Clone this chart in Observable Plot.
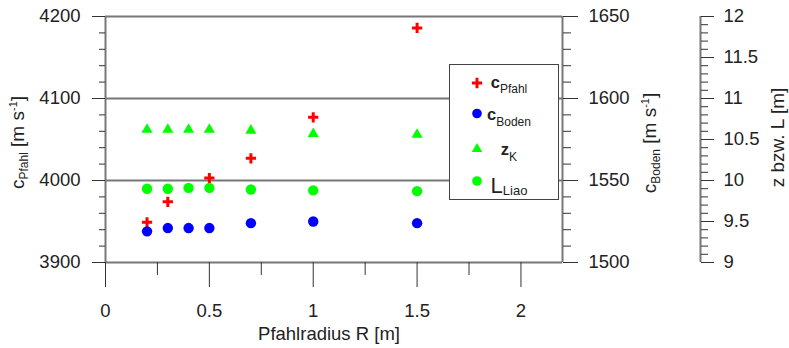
<!DOCTYPE html>
<html><head><meta charset="utf-8">
<script src="https://cdn.jsdelivr.net/npm/d3@7"></script>
<script src="https://cdn.jsdelivr.net/npm/@observablehq/plot@0.6"></script>
<style>
body{margin:0;background:#fff;}
#chart svg{font-family:"Liberation Sans",Arial,sans-serif;}
</style></head><body><div id="chart"></div>
<script>
// ---- data ----
const radius = [0.2, 0.3, 0.4, 0.5, 0.7, 1.0, 1.5];
const cPfahl = [3949, 3974, null, 4003, 4027, 4077, 4186];
const cBoden = [1519, 1521, 1521, 1521, 1524, 1525, 1524];
const zK     = [10.62, 10.62, 10.62, 10.62, 10.61, 10.57, 10.56];
const LLiao  = [9.90, 9.90, 9.91, 9.91, 9.89, 9.88, 9.87];

// ---- ticks ----
const xTicks = [0, 0.5, 1, 1.5, 2];
const xMinorTicks = [0.25, 0.75, 1.25, 1.75];
const pfahlTicks = [3900, 4000, 4100, 4200];
const bodenTicks = [1500, 1550, 1600, 1650];
const zTicks = [9, 9.5, 10, 10.5, 11, 11.5, 12];

const xDomain = [0, 2.2];
const pfahlDomain = [3900, 4200];
const bodenDomain = [1500, 1650];
const zDomain = [9, 12];

// map secondary axes into the primary (c_Pfahl) y scale
const k = (pfahlDomain[1] - pfahlDomain[0]);
const fromBoden = b => pfahlDomain[0] + (b - bodenDomain[0]) * k / (bodenDomain[1] - bodenDomain[0]);
const toBoden = p => bodenDomain[0] + (p - pfahlDomain[0]) * (bodenDomain[1] - bodenDomain[0]) / k;
const fromZ = z => pfahlDomain[0] + (z - zDomain[0]) * k / (zDomain[1] - zDomain[0]);
const toZ = p => zDomain[0] + (p - pfahlDomain[0]) * (zDomain[1] - zDomain[0]) / k;

const pfahlMinor = d3.range(3900, 4201, 20).filter(v => !pfahlTicks.includes(v));
const bodenMinor = d3.range(1500, 1651, 10).filter(v => !bodenTicks.includes(v)).map(fromBoden);
const zMinor = d3.range(90, 121).map(v => v / 10).filter(v => !zTicks.includes(v)).map(fromZ);

const rows = radius.map((r, i) => ({r, cPfahl: cPfahl[i], cBoden: cBoden[i], zK: zK[i], LLiao: LLiao[i]}));

const tickColor = "#333";
const lineColor = "#777";
const textColor = "#222";
const zOffset = 138;

const svg = Plot.plot({
  width: 789, height: 348,
  marginLeft: 105, marginRight: 227, marginTop: 16, marginBottom: 86,
  x: {domain: xDomain},
  y: {domain: pfahlDomain},
  style: {fontFamily: '"Liberation Sans", Arial, sans-serif', fontSize: "18.5px", color: textColor, background: "#fff"},
  marks: [
    Plot.gridY({ticks: pfahlTicks, stroke: lineColor, strokeOpacity: 1, strokeWidth: 2}),
    Plot.ruleX([xDomain[0]], {stroke: lineColor, strokeWidth: 2}),
    Plot.ruleX([xDomain[1]], {stroke: lineColor, strokeWidth: 2}),
    Plot.ruleX([xDomain[1]], {stroke: lineColor, strokeWidth: 2, dx: zOffset}),
    // left axis
    Plot.axisY({ticks: pfahlTicks, anchor: "left", tickSize: 13, tickPadding: 12, label: null, tickFormat: d => String(d), stroke: tickColor, fill: textColor}),
    Plot.axisY({ticks: pfahlMinor, anchor: "left", tickSize: 6, label: null, tickFormat: () => "", stroke: tickColor}),
    // right axis (c_Boden)
    Plot.axisY({ticks: bodenTicks.map(fromBoden), anchor: "right", tickSize: 15, tickPadding: 11, label: null, tickFormat: p => String(Math.round(toBoden(p))), stroke: tickColor, fill: textColor}),
    Plot.axisY({ticks: bodenMinor, anchor: "right", tickSize: 8, label: null, tickFormat: () => "", stroke: tickColor}),
    // third axis (z / L)
    Plot.axisY({ticks: zTicks.map(fromZ), anchor: "right", dx: zOffset, tickSize: 13, tickPadding: 10, label: null, tickFormat: p => String(Math.round(toZ(p) * 10) / 10), stroke: tickColor, fill: textColor}),
    Plot.axisY({ticks: zMinor, anchor: "right", dx: zOffset, tickSize: 7, label: null, tickFormat: () => "", stroke: tickColor}),
    // x axis
    Plot.axisX({ticks: xTicks, anchor: "bottom", tickSize: 25, tickPadding: 16, label: null, tickFormat: d => String(d), stroke: tickColor, fill: textColor}),
    Plot.axisX({ticks: xMinorTicks, anchor: "bottom", tickSize: 13, label: null, tickFormat: () => "", stroke: tickColor}),
    Plot.text(["Pfahlradius R [m]"], {frameAnchor: "bottom", dy: 72, dx: -5, lineAnchor: "middle", fontSize: 18.5, fill: textColor}),
    // data
    Plot.dot(rows.filter(d => d.cPfahl != null), {x: "r", y: "cPfahl", symbol: "plus", r: 3.4, stroke: "#ff0000", strokeWidth: 3}),
    Plot.dot(rows, {x: "r", y: d => fromBoden(d.cBoden), r: 5.2, fill: "#0000ff"}),
    Plot.dot(rows, {x: "r", y: d => fromZ(d.zK), symbol: "triangle", r: 4.1, fill: "#00ff00"}),
    Plot.dot(rows, {x: "r", y: d => fromZ(d.LLiao), r: 5.2, fill: "#00ff00"})
  ]
});
document.getElementById("chart").appendChild(svg);

// ---- rotated axis titles with sub/superscripts ----
const S = d3.select(svg);
function title(x, y, parts) {
  const t = S.append("text")
    .attr("transform", `translate(${x},${y}) rotate(-90)`)
    .attr("text-anchor", "middle")
    .attr("fill", textColor)
    .attr("font-size", 19);
  parts.forEach(p => {
    t.append("tspan").attr("font-size", p.size || 19).attr("dy", p.dy || 0).text(p.text);
  });
}
title(24, 142.5, [
  {text: "c"}, {text: "Pfahl", size: 12, dy: 4}, {text: " [m s", dy: -4},
  {text: "-1", size: 11, dy: -7}, {text: "]", dy: 7}
]);
title(656, 143, [
  {text: "c"}, {text: "Boden", size: 12, dy: 4}, {text: " [m s", dy: -4},
  {text: "-1", size: 11, dy: -7}, {text: "]", dy: 7}
]);
title(784, 137.5, [{text: "z bzw. L [m]"}]);

// ---- legend ----
const legendItems = [
  {type: d3.symbolPlus, size: Math.PI * 3.4 * 3.4, stroke: "#ff0000", fill: "none", main: "c", sub: "Pfahl", y: 83, base: 88, mainSize: 16.5, bold: true, subDy: 5},
  {type: d3.symbolCircle, size: Math.PI * 4.8 * 4.8, stroke: "none", fill: "#0000ff", main: "c", sub: "Boden", y: 113.5, base: 120, mainSize: 16.5, bold: true, subDy: 6},
  {type: d3.symbolTriangle, size: Math.PI * 3.9 * 3.9, stroke: "none", fill: "#00ff00", main: "z", sub: "K", y: 149, base: 155, mainSize: 16.5, bold: true, subDy: 6},
  {type: d3.symbolCircle, size: Math.PI * 4.8 * 4.8, stroke: "none", fill: "#00ff00", main: "L", sub: "Liao", y: 181, base: 193, mainSize: 22, bold: false, subDy: 2}
];
const lg = S.append("g");
lg.append("rect").attr("x", 449.5).attr("y", 64.5).attr("width", 109).attr("height", 135)
  .attr("fill", "#fff").attr("stroke", "#444").attr("stroke-width", 1);
legendItems.forEach(it => {
  lg.append("path").attr("d", d3.symbol(it.type, it.size)())
    .attr("transform", `translate(477,${it.y})`)
    .attr("fill", it.fill).attr("stroke", it.stroke).attr("stroke-width", 3);
  const t = lg.append("text").attr("x", 509).attr("y", it.base).attr("fill", textColor);
  t.append("tspan").attr("font-size", it.mainSize).attr("font-weight", it.bold ? "bold" : "normal").text(it.main);
  t.append("tspan").attr("font-size", it.sub === "Liao" ? 13 : 12).attr("dy", it.subDy).text(it.sub);
});
</script></body></html>
